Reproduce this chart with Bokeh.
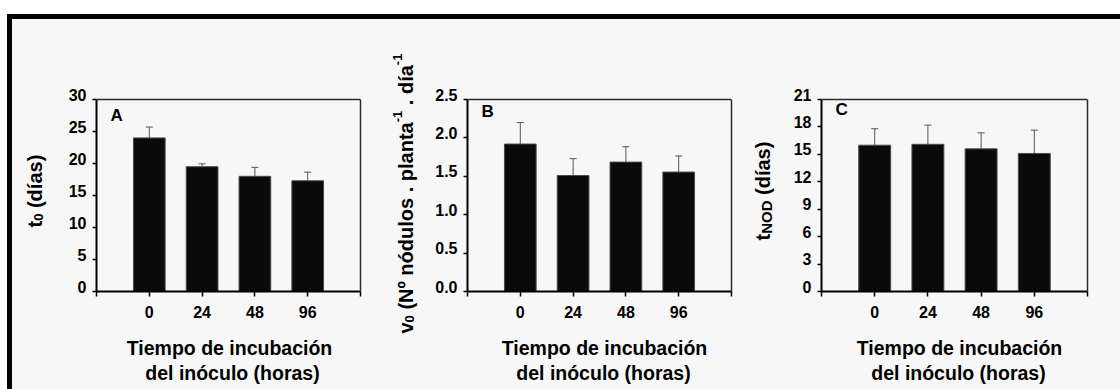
import math

from bokeh.embed import file_html
from bokeh.layouts import column, row
from bokeh.models import (ColumnDataSource, FixedTicker, Label, LinearAxis,
                          NumeralTickFormatter, Range1d, Span, TeeHead, Whisker)
from bokeh.plotting import figure
from bokeh.resources import INLINE

# ---- data -------------------------------------------------------------
hours = ["0", "24", "48", "96"]

t0 = [24.0, 19.5, 18.0, 17.3]
t0_err = [1.7, 0.45, 1.4, 1.35]

v0 = [1.92, 1.51, 1.685, 1.555]
v0_err = [0.28, 0.22, 0.20, 0.21]

tnod = [16.0, 16.1, 15.6, 15.1]
tnod_err = [1.8, 2.1, 1.75, 2.55]

yticks_a = [0, 5, 10, 15, 20, 25, 30]
yticks_b = [0.0, 0.5, 1.0, 1.5, 2.0, 2.5]
yticks_c = [0, 3, 6, 9, 12, 15, 18, 21]

xtitle = ["Tiempo de incubación", "del inóculo (horas)"]

# ---- style ------------------------------------------------------------
FONT = "Liberation Sans"
BG = "#f7f7f7"
BAR = "#0a0a0a"
ERR = "#555555"
FRAME_LINE = "#2a2a2a"
H = 316            # height of the chart row
STRIP_H = 54       # strip underneath holding the x axis titles
LIFT = 5           # tick labels sit this many px above their ticks
TOP = 80 - LIFT
FRAME_H = 192 + LIFT
BOTTOM = H - TOP - FRAME_H

# Liberation Sans Bold advance widths (1/1000 em)
ADV = {' ': 278, '(': 333, ')': 333, '.': 278, '-': 333, 'N': 722, 'O': 778,
       'D': 722, 'º': 365, 'a': 556, 'd': 611, 'í': 278, 's': 556, 't': 333,
       'v': 556, 'n': 611, 'ó': 611, 'u': 611, 'l': 278, 'o': 611, 'p': 611}


def text_width(s, size):
    return sum(ADV.get(c, 556) for c in s) * size / 1000.0


def blank_fig(width, height):
    f = figure(width=width, height=height, x_range=Range1d(0, width),
               y_range=Range1d(0, height), output_backend="svg",
               toolbar_location=None, title=None, x_axis_location=None,
               y_axis_location=None, min_border_left=0, min_border_right=0,
               min_border_top=0, min_border_bottom=0, frame_align=False,
               background_fill_color=BG, border_fill_color=BG,
               outline_line_color=None)
    f.grid.visible = False
    return f


def ylabel_fig(width, pieces, x0, y0):
    """Narrow strip holding a vertical axis title with sub/superscripts."""
    f = blank_fig(width, H)
    y = y0
    for txt, size, shift in pieces:
        body = txt.lstrip(" ")
        y += text_width(txt[:len(txt) - len(body)], size)   # leading blanks
        f.add_layout(Label(x=x0 - shift, y=y, x_units="screen", y_units="screen",
                           text=body, angle=math.pi / 2, text_align="left",
                           text_baseline="alphabetic", text_font=FONT,
                           text_font_style="bold", text_font_size=f"{size}px",
                           text_color="black"))
        y += text_width(body, size)
    return f


def panel(values, errors, yticks, fmt, letter, letter_y, left, frame_w, right):
    ymax = yticks[-1]
    d = ymax / 192.0 * LIFT
    n = len(hours)
    xs = list(range(1, n + 1))
    p = figure(width=left + frame_w + right, height=H, title=None,
               x_range=Range1d(0, n + 1), y_range=Range1d(0, ymax + d),
               output_backend="svg", toolbar_location=None, frame_align=False,
               min_border_left=left, min_border_right=right,
               min_border_top=TOP, min_border_bottom=BOTTOM,
               background_fill_color=BG, border_fill_color=BG)
    p.grid.visible = False
    p.outline_line_color = None

    src = ColumnDataSource(dict(x=xs, top=values,
                                upper=[v + e for v, e in zip(values, errors)]))
    p.vbar(x="x", top="top", width=0.6, source=src,
           fill_color=BAR, line_color="#4a4a4a", line_width=1)
    p.add_layout(Whisker(source=src, base="x", lower="top", upper="upper",
                         dimension="height", line_color=ERR, line_width=1,
                         lower_head=None,
                         upper_head=TeeHead(size=7, line_color=ERR, line_width=1)))

    # box: top rule and right side
    p.add_layout(Span(location=ymax, dimension="width",
                      line_color=FRAME_LINE, line_width=1.5))
    ra = LinearAxis(bounds=(0, ymax), ticker=FixedTicker(ticks=[]),
                    axis_line_color=FRAME_LINE, axis_line_width=1.5,
                    major_tick_line_color=None, minor_tick_line_color=None,
                    major_label_text_color=None, major_label_text_font_size="1px",
                    major_label_standoff=0)
    p.add_layout(ra, "right")

    # x axis: ticks at both ends of the box and under each bar
    xa = p.xaxis[0]
    xa.ticker = FixedTicker(ticks=list(range(0, n + 2)))
    overrides = {0: "", n + 1: ""}
    overrides.update({i + 1: h for i, h in enumerate(hours)})
    xa.major_label_overrides = overrides
    xa.axis_line_width = 2
    xa.axis_line_color = "black"
    xa.major_tick_line_width = 1.5
    xa.major_tick_out = 5
    xa.major_tick_in = 0
    xa.minor_tick_line_color = None
    xa.major_label_standoff = 9
    xa.major_label_text_font = FONT
    xa.major_label_text_font_style = "bold"
    xa.major_label_text_font_size = "16px"
    xa.major_label_text_color = "black"

    # y axis: line and ticks only
    ya = p.yaxis[0]
    ya.bounds = (0, ymax)
    ya.ticker = FixedTicker(ticks=yticks)
    ya.axis_line_width = 2
    ya.axis_line_color = "black"
    ya.major_tick_line_width = 1.5
    ya.major_tick_out = 4
    ya.major_tick_in = 0
    ya.minor_tick_line_color = None
    ya.major_label_text_color = None
    ya.major_label_text_font_size = "1px"
    ya.major_label_standoff = 0

    # y tick labels, drawn on a range shifted so they sit above their ticks
    p.extra_y_ranges = {"lbl": Range1d(-d, ymax)}
    la = LinearAxis(y_range_name="lbl", ticker=FixedTicker(ticks=yticks),
                    axis_line_color=None, major_tick_line_color=None,
                    minor_tick_line_color=None, major_tick_in=0, major_tick_out=0,
                    major_label_standoff=6, major_label_text_font=FONT,
                    major_label_text_font_style="bold",
                    major_label_text_font_size="16px",
                    major_label_text_color="black")
    if fmt:
        la.formatter = NumeralTickFormatter(format=fmt)
    p.add_layout(la, "left")

    # panel letter
    p.add_layout(Label(x=14, y=letter_y, x_units="screen", y_units="screen",
                       text=letter, text_font=FONT, text_font_style="bold",
                       text_font_size="17px", text_color="black",
                       text_baseline="alphabetic"))
    return p


# chart row: label strip + panel, three times
ya_lab = ylabel_fig(38, [("t", 20, 0), ("0", 13, -4), (" (días)", 20, 0)], 22, 108)
pa = panel(t0, t0_err, yticks_a, None, "A", 176, 46, 264, 25)

yb_lab = ylabel_fig(35, [("v", 20, 0), ("0", 13, -4),
                         (" (Nº nódulos . planta", 20, 0), ("-1", 13, 8),
                         (" . día", 20, 0), ("-1", 13, 8)], 20, 2)
pb = panel(v0, v0_err, yticks_b, "0.0", "B", 180, 47, 264, 14)

yc_lab = ylabel_fig(35, [("t", 20, 0), ("NOD", 15, -4), (" (días)", 20, 0)], 17, 95)
pc = panel(tnod, tnod_err, yticks_c, None, "C", 182, 41, 266, 33)

# x axis titles, centred under each box (x of box centre + small nudge)
strip = blank_fig(1108, STRIP_H)
for cx, (dx1, dx2) in [(216, (1, 4)), (587, (5, 4)), (942, (5, 4))]:
    for line, dx, base in [(xtitle[0], dx1, 42), (xtitle[1], dx2, 17)]:
        strip.add_layout(Label(x=cx + dx, y=base, x_units="screen",
                               y_units="screen", text=line, text_align="center",
                               text_baseline="alphabetic", text_font=FONT,
                               text_font_style="bold", text_font_size="19.5px",
                               text_color="black"))

layout = column(row(ya_lab, pa, yb_lab, pb, yc_lab, pc), strip,
                styles={"margin-top": "14px", "margin-left": "7px",
                        "border-top": "5px solid black",
                        "border-left": "5px solid black",
                        "background-color": BG})

open("out.html", "w").write(file_html(layout, INLINE))
